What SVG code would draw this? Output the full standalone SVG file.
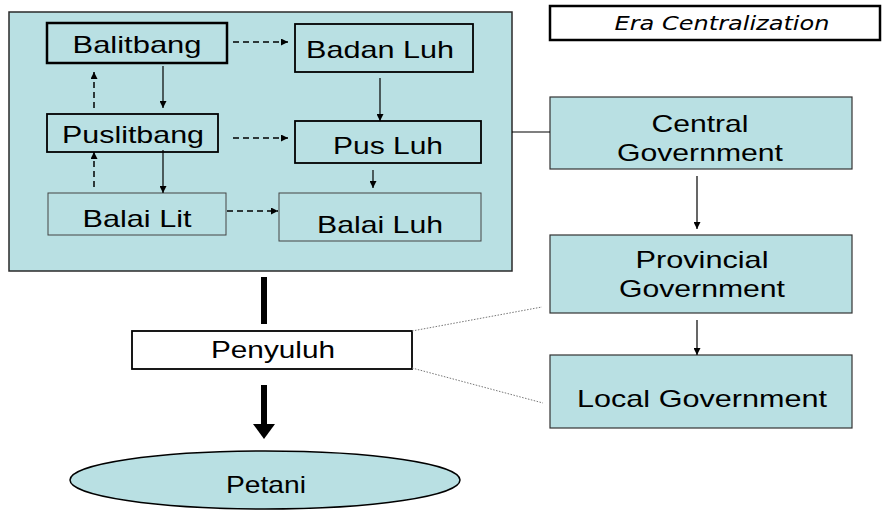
<svg xmlns="http://www.w3.org/2000/svg" width="883" height="511" viewBox="0 0 883 511">
<style>
.t{font-family:"Liberation Sans",Arial,sans-serif;font-size:24px;fill:#000;text-anchor:middle}
.fill{fill:#B9E0E3}
.thin{stroke:#000;stroke-width:1.2;fill:none}
.dash{stroke:#000;stroke-width:1.5;stroke-dasharray:6 4;fill:none}
</style>
<defs>
<marker id="ah" viewBox="0 0 10 10" refX="10" refY="5" markerWidth="7" markerHeight="7" markerUnits="userSpaceOnUse" orient="auto"><path d="M0,0 L10,5 L0,10 z" fill="#000"/></marker>
</defs>
<rect width="883" height="511" fill="#fff"/>
<g id="era">
<rect x="550" y="6" width="330" height="34" fill="#fff" stroke="#000" stroke-width="2.5"/>
<text x="722" y="30" style="font-family:'DejaVu Sans',sans-serif;font-style:italic;font-size:19px;text-anchor:middle" textLength="215" lengthAdjust="spacingAndGlyphs">Era Centralization</text>
</g>
<g id="container">
<rect x="9" y="12" width="503" height="259" class="fill" stroke="#2a2a2a" stroke-width="1.5"/>
</g>
<g id="balitbang">
<rect x="47" y="23" width="180" height="40" class="fill" stroke="#000" stroke-width="2.5"/>
<text class="t" x="137" y="53" textLength="129" lengthAdjust="spacingAndGlyphs">Balitbang</text>
</g>
<g id="badanluh">
<rect x="295" y="24" width="178" height="48" class="fill" stroke="#000" stroke-width="1.8"/>
<text class="t" x="380" y="58" textLength="148" lengthAdjust="spacingAndGlyphs">Badan Luh</text>
</g>
<g id="puslitbang">
<rect x="47" y="114" width="171" height="38" class="fill" stroke="#000" stroke-width="1.8"/>
<text class="t" x="133" y="143" textLength="142" lengthAdjust="spacingAndGlyphs">Puslitbang</text>
</g>
<g id="pusluh">
<rect x="295" y="121" width="186" height="42" class="fill" stroke="#000" stroke-width="1.8"/>
<text class="t" x="388" y="154" textLength="110" lengthAdjust="spacingAndGlyphs">Pus Luh</text>
</g>
<g id="balailit">
<rect x="48" y="193" width="178" height="42" class="fill" stroke="#444" stroke-width="1"/>
<text class="t" x="137" y="227" textLength="109" lengthAdjust="spacingAndGlyphs">Balai Lit</text>
</g>
<g id="balailuh">
<rect x="279" y="193" width="202" height="48" class="fill" stroke="#444" stroke-width="1"/>
<text class="t" x="380" y="233" textLength="126" lengthAdjust="spacingAndGlyphs">Balai Luh</text>
</g>
<g id="central">
<rect x="550" y="97" width="302" height="72" class="fill" stroke="#333" stroke-width="1.2"/>
<text class="t" x="700" y="132" textLength="97" lengthAdjust="spacingAndGlyphs">Central</text>
<text class="t" x="700" y="161" textLength="166" lengthAdjust="spacingAndGlyphs">Government</text>
</g>
<g id="provincial">
<rect x="550" y="235" width="302" height="78" class="fill" stroke="#333" stroke-width="1.2"/>
<text class="t" x="702" y="268" textLength="133" lengthAdjust="spacingAndGlyphs">Provincial</text>
<text class="t" x="702" y="297" textLength="166" lengthAdjust="spacingAndGlyphs">Government</text>
</g>
<g id="local">
<rect x="550" y="355" width="302" height="73" class="fill" stroke="#333" stroke-width="1.2"/>
<text class="t" x="702" y="407" textLength="250" lengthAdjust="spacingAndGlyphs">Local Government</text>
</g>
<g id="penyuluh">
<rect x="132" y="331" width="280" height="38" fill="#fff" stroke="#000" stroke-width="1.8"/>
<text class="t" x="273" y="358" textLength="124" lengthAdjust="spacingAndGlyphs">Penyuluh</text>
</g>
<g id="petani">
<ellipse cx="265" cy="480" rx="195" ry="29" class="fill" stroke="#000" stroke-width="1.5"/>
<text class="t" x="266" y="493" textLength="80" lengthAdjust="spacingAndGlyphs">Petani</text>
</g>
<g id="connectors">
<line class="dash" x1="233" y1="42" x2="288" y2="42" marker-end="url(#ah)"/>
<line class="dash" x1="233" y1="138" x2="288" y2="138" marker-end="url(#ah)"/>
<line class="dash" x1="227" y1="211" x2="278" y2="211" marker-end="url(#ah)"/>
<line class="dash" x1="94" y1="108" x2="94" y2="72" marker-end="url(#ah)"/>
<line class="dash" x1="94" y1="187" x2="94" y2="152" marker-end="url(#ah)"/>
<line class="thin" x1="163" y1="66" x2="163" y2="108" marker-end="url(#ah)"/>
<line class="thin" x1="163" y1="150" x2="163" y2="193" marker-end="url(#ah)"/>
<line class="thin" x1="380" y1="78" x2="380" y2="121" marker-end="url(#ah)"/>
<line class="thin" x1="373" y1="170" x2="373" y2="188" marker-end="url(#ah)"/>
<line class="thin" x1="512" y1="132" x2="550" y2="132"/>
<line class="thin" x1="697" y1="176" x2="697" y2="229" marker-end="url(#ah)"/>
<line class="thin" x1="697" y1="320" x2="697" y2="355" marker-end="url(#ah)"/>
<line x1="264" y1="277" x2="264" y2="324" stroke="#000" stroke-width="6"/>
<line x1="264" y1="385" x2="264" y2="425" stroke="#000" stroke-width="6"/>
<polygon points="253,424 275,424 264,439" fill="#000"/>
<line x1="412" y1="331" x2="542" y2="307" stroke="#777" stroke-width="1" stroke-dasharray="1.5 1.5"/>
<line x1="412" y1="368" x2="543" y2="403" stroke="#777" stroke-width="1" stroke-dasharray="1.5 1.5"/>
</g>
</svg>
